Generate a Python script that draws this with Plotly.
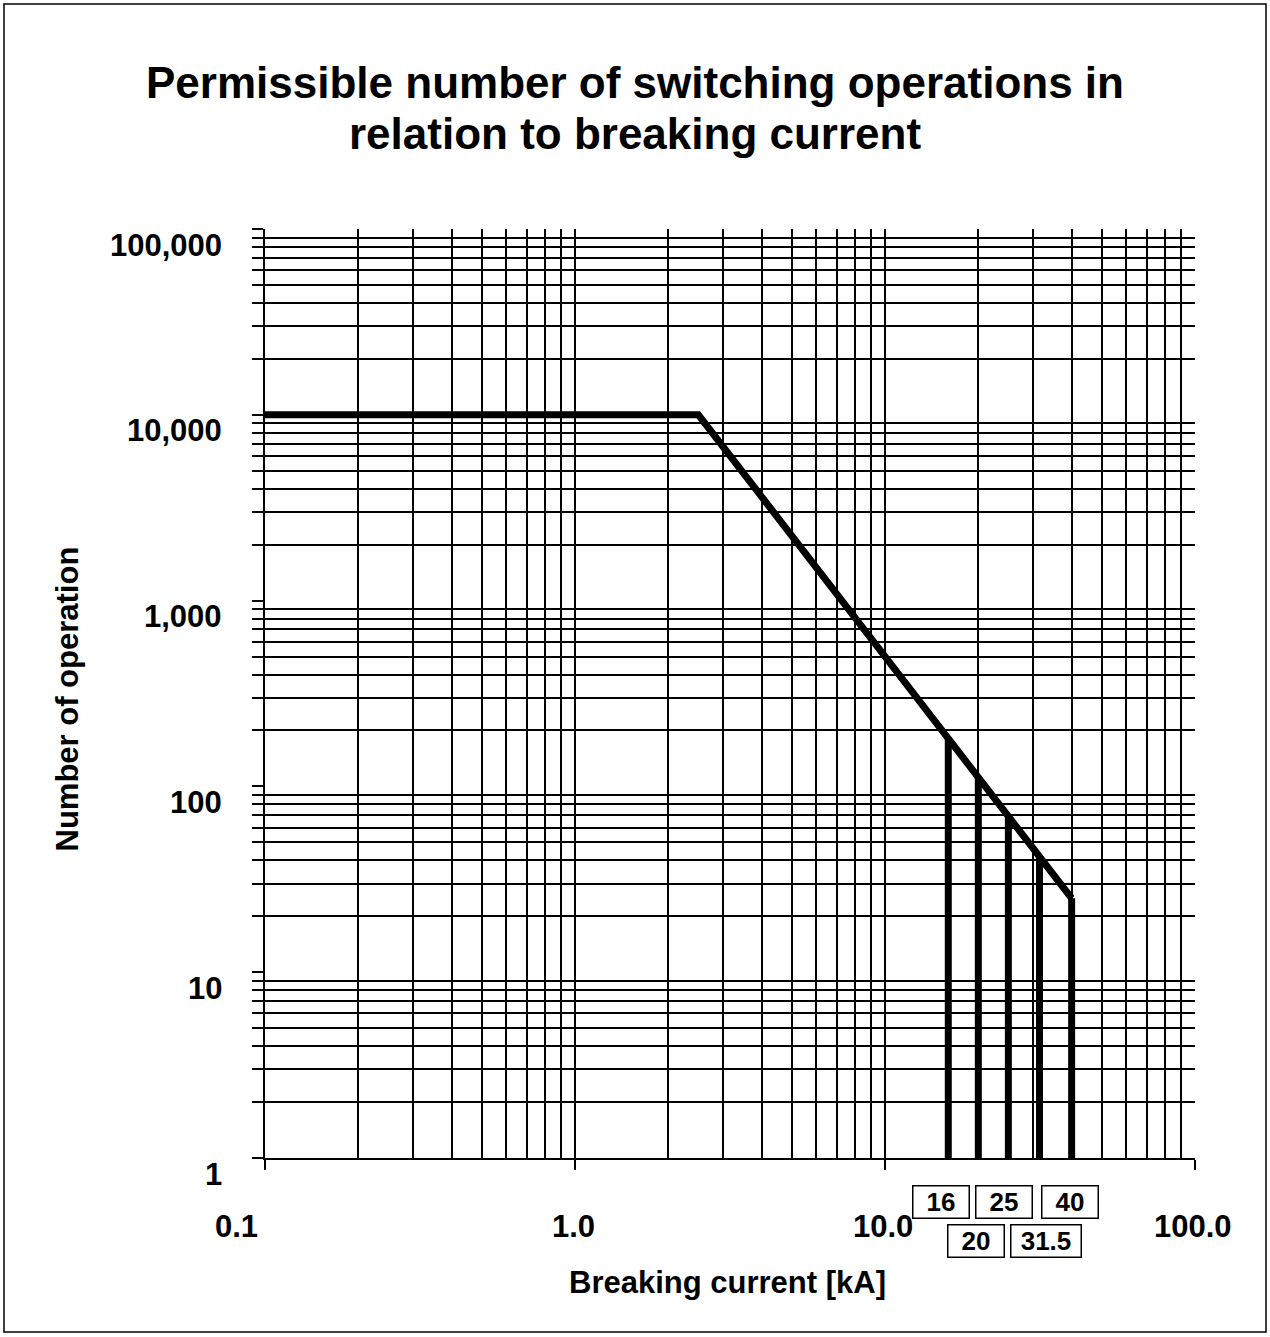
import math
import plotly.graph_objects as go

# ---------------- data ----------------
curve_current_kA = [0.1, 2.5, 40]
curve_operations = [10000, 10000, 25]

rated_current_kA = [16, 20, 25, 31.5, 40]
rated_operations = [181, 112, 69, 42, 25]
rated_labels = ["16", "20", "25", "31.5", "40"]

y_tick_values = [1, 10, 100, 1000, 10000, 100000]
y_tick_labels = ["1", "10", "100", "1,000", "10,000", "100,000"]
x_tick_values = [0.1, 1, 10, 100]
x_tick_labels = ["0.1", "1.0", "10.0", "100.0"]

title_lines = ["Permissible number of switching operations in",
               "relation to breaking current"]
x_title = "Breaking current [kA]"
y_title = "Number of operation"

# ---------------- layout constants ----------------
W, H = 1270, 1337
L, R, T, B = 265, 75, 229, 179
PW, PH = W - L - R, H - T - B
FONT = "Liberation Sans, Arial, sans-serif"
BOX_XSHIFT = [-7, -2, -4, 7, -2]   # small horizontal nudges of the label boxes

x_minor = [m * 10 ** k for k in range(-1, 2) for m in range(2, 10)] + [1, 10]
y_minor = [m * 10 ** k for k in range(0, 5) for m in range(2, 10)]

fig = go.Figure()

# main curve
fig.add_trace(go.Scatter(
    x=curve_current_kA, y=curve_operations, mode="lines",
    line=dict(color="black", width=7), hoverinfo="skip", showlegend=False))

# vertical lines at rated currents
for c, n in zip(rated_current_kA, rated_operations):
    fig.add_trace(go.Scatter(
        x=[c, c], y=[1, n], mode="lines",
        line=dict(color="black", width=7), hoverinfo="skip", showlegend=False))

annotations = []
tick_font = dict(family=FONT, size=31, color="black", weight="bold")

for v, lab in zip(y_tick_values, y_tick_labels):
    annotations.append(dict(
        x=0, xref="paper", y=math.log10(v), yref="y", text=lab,
        xanchor="right", yanchor="middle", xshift=-41, yshift=-16,
        showarrow=False, font=tick_font))

for v, lab in zip(x_tick_values, x_tick_labels):
    annotations.append(dict(
        x=math.log10(v), xref="x", y=0, yref="paper", text=lab,
        xanchor="center", yanchor="middle", yshift=-68,
        xshift=(-29 if v == 0.1 else -2),
        showarrow=False, font=tick_font))

# title lines
title_font = dict(family=FONT, size=44, color="black", weight="bold")
for i, line in enumerate(title_lines):
    annotations.append(dict(
        x=(W / 2 - L) / PW, xref="paper", y=1, yref="paper", text=line,
        xanchor="center", yanchor="middle", yshift=T - (82 + 51 * i),
        showarrow=False, font=title_font))

axis_title_font = dict(family=FONT, size=31, color="black", weight="bold")
annotations.append(dict(
    x=0.5, xref="paper", y=0, yref="paper", text=x_title,
    xanchor="center", yanchor="middle", xshift=-3, yshift=-(1282 - (H - B)),
    showarrow=False, font=axis_title_font))
annotations.append(dict(
    x=0, xref="paper", y=0.5, yref="paper", text=y_title, textangle=-90,
    xanchor="center", yanchor="middle", xshift=67 - L, yshift=-6,
    showarrow=False, font=axis_title_font))

# boxed rated-current labels
box_font = dict(family=FONT, size=26, color="black", weight="bold")
for i, (c, lab) in enumerate(zip(rated_current_kA, rated_labels)):
    row = i % 2
    annotations.append(dict(
        x=math.log10(c), xref="x", y=0, yref="paper", text=lab,
        xanchor="center", yanchor="middle",
        xshift=BOX_XSHIFT[i], yshift=-(43.5 + 39 * row),
        width=(67 if len(lab) > 2 else 53), height=29, align="center",
        bordercolor="black", borderwidth=1.5, borderpad=1, bgcolor="white",
        showarrow=False, font=box_font))

fig.update_layout(
    width=W, height=H,
    margin=dict(l=L, r=R, t=T, b=B, pad=0),
    paper_bgcolor="white", plot_bgcolor="white",
    showlegend=False,
    annotations=annotations,
    shapes=[dict(
        type="rect", xref="paper", yref="paper",
        x0=(4 - L) / PW, x1=(1266 - L) / PW,
        y0=1 - (1332 - T) / PH, y1=1 - (4 - T) / PH,
        line=dict(color="black", width=1.5), fillcolor="rgba(0,0,0,0)",
        layer="below")],
)

fig.update_xaxes(
    type="log", range=[-1, 2],
    tickmode="array", tickvals=x_tick_values, showticklabels=False,
    ticks="outside", ticklen=10, tickwidth=2, tickcolor="black",
    showgrid=False, zeroline=False,
    showline=True, linecolor="black", linewidth=2,
    minor=dict(tickmode="array", tickvals=x_minor, ticks="",
               showgrid=True, gridcolor="black", gridwidth=2),
)
fig.update_yaxes(
    type="log", range=[0, 5],
    tickmode="array", tickvals=y_tick_values, showticklabels=False,
    ticks="outside", ticklen=11, tickwidth=2, tickcolor="black",
    showgrid=False, zeroline=False,
    showline=True, linecolor="black", linewidth=2,
    minor=dict(tickmode="array", tickvals=y_minor, ticks="outside",
               ticklen=11, tickwidth=2, tickcolor="black",
               showgrid=True, gridcolor="black", gridwidth=2),
)

fig.write_html("out.html", config={"displayModeBar": False},
               post_script="document.body.style.margin='0';document.body.style.overflow='hidden';")
